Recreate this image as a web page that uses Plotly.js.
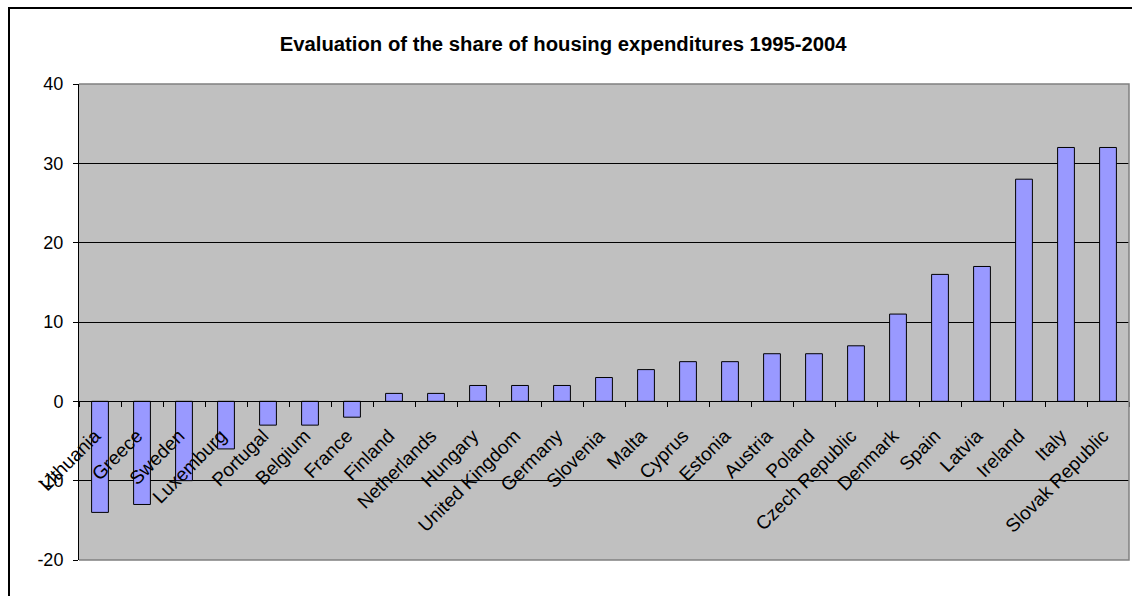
<!DOCTYPE html>
<html>
<head>
<meta charset="utf-8">
<script src="https://cdn.plot.ly/plotly-3.0.1.min.js"></script>
<style>
html,body{margin:0;padding:0;background:#fff;}
#wrap{position:relative;width:1132px;height:596px;overflow:hidden;}
#chart{position:absolute;left:0;top:0;width:1132px;height:596px;}
#frame{position:absolute;left:8px;top:7px;width:1200px;height:700px;border:2px solid #000;pointer-events:none;}
</style>
</head>
<body>
<div id="wrap"><div id="chart"></div><div id="frame"></div></div>
<script>
const countries = ["Lithuania","Greece","Sweden","Luxemburg","Portugal","Belgium","France","Finland","Netherlands","Hungary","United Kingdom","Germany","Slovenia","Malta","Cyprus","Estonia","Austria","Poland","Czech Republic","Denmark","Spain","Latvia","Ireland","Italy","Slovak Republic"];
const shareChange = [-14,-13,-10,-6,-3,-3,-2,1,1,2,2,2,3,4,5,5,6,6,7,11,16,17,28,32,32];
const yTicks = [-20,-10,0,10,20,30,40];
const chartTitle = "Evaluation of the share of housing expenditures 1995-2004";

const font = "Liberation Sans, Arial, sans-serif";
const trace = {
  type: "bar",
  x: countries,
  y: shareChange,
  marker: {color: "#9999FF", line: {color: "#000000", width: 1}},
  hoverinfo: "x+y"
};
const yMin = yTicks[0], yMax = yTicks[yTicks.length-1];
const layout = {
  width: 1132, height: 596,
  margin: {l: 79, r: 3, t: 84, b: 36, pad: 0},
  paper_bgcolor: "rgba(0,0,0,0)",
  plot_bgcolor: "#C0C0C0",
  showlegend: false,
  bargap: 0.6,
  title: {text: "<b>" + chartTitle + "</b>", x: 0.4975, xanchor: "center", y: 0.926, yanchor: "middle",
          font: {family: font, size: 20.3, color: "#000"}},
  yaxis: {
    range: [yMin, yMax], tickvals: yTicks, ticktext: yTicks.map(String),
    showgrid: true, gridcolor: "#000000", gridwidth: 1,
    zeroline: false, showline: true, linecolor: "#000000", linewidth: 1,
    ticks: "outside", ticklen: 5, tickcolor: "#000000",
    tickfont: {family: font, size: 18, color: "#000"}, ticklabelstandoff: 6,
    fixedrange: true
  },
  xaxis: {
    type: "category", anchor: "free", position: (0 - yMin) / (yMax - yMin),
    showline: true, linecolor: "#000000", linewidth: 1,
    ticks: "outside", tickson: "boundaries", ticklen: 5, tickcolor: "#000000",
    tickangle: -45, tickfont: {family: font, size: 19, color: "#000"},
    ticklabelstandoff: 15, ticklabelshift: -5,
    showgrid: false, zeroline: false, fixedrange: true
  },
  shapes: [{
    type: "path", xref: "paper", yref: "paper",
    path: "M0,1 L1,1 L1,0 L0,0", line: {color: "#808080", width: 1.5}, layer: "above"
  }]
};
Plotly.newPlot("chart", [trace], layout, {displayModeBar: false, staticPlot: true});
</script>
</body>
</html>
